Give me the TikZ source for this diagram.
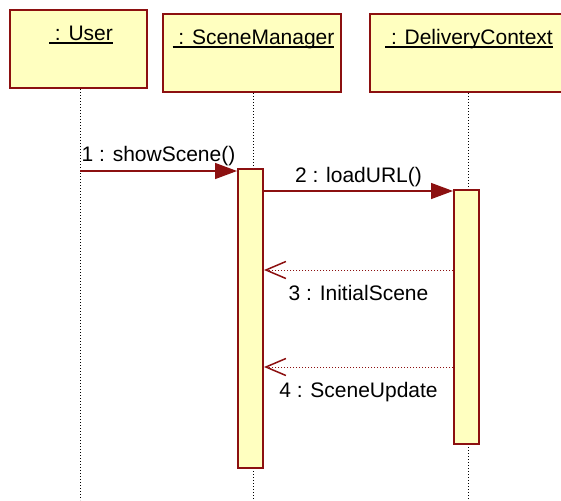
\documentclass[tikz,border=0pt]{standalone}
\usepackage{fontspec}
\setmainfont{Liberation Sans}
\usetikzlibrary{arrows.meta}
\definecolor{umlred}{RGB}{140,16,16}
\definecolor{umlfill}{RGB}{255,255,192}
\newcommand{\objname}[1]{\setbox0\hbox{#1}\rlap{\rule[-3pt]{\wd0}{1.5pt}}\box0}

\begin{document}
\begin{tikzpicture}[x=1pt, y=-1pt, font=\fontsize{21}{24}\selectfont,
        obj/.style={draw=umlred, fill=umlfill, line width=2pt, inner sep=0pt, minimum height=78pt},
        act/.style={draw=umlred, fill=umlfill, line width=2pt, inner sep=0pt, minimum width=25pt},
        life/.style={dash pattern=on 1pt off 2pt, line width=1pt},
        call/.style={umlred, line width=1.5pt, -{Triangle[length=22pt, width=16pt]}},
        reply/.style={umlred, line width=1pt, dash pattern=on 1pt off 2pt, -{Straight Barb[length=20pt, width=17pt, line width=1.5pt]}},
        msg/.style={midway, anchor=base, inner sep=0pt, text=black}]
        \clip (0,0) rectangle (561,500);
        \node[obj, minimum width=137pt] (user) at (78.5,49) {};
        \node[obj, minimum width=178pt] (sm) at (252,53) {};
        \node[obj, minimum width=198pt] (dc) at (469,53) {};
        \node[anchor=base, inner sep=0pt] (usertxt) at (81,41) {\objname{\ : User}};
        \node[anchor=base, inner sep=0pt] (smtxt) at (253.5,45) {\objname{\ : SceneManager}};
        \node[anchor=base, inner sep=0pt] (dctxt) at (469,45) {\objname{\ : DeliveryContext}};
        \coordinate (uend) at (80,500);
        \coordinate (smend) at (253,500);
        \coordinate (dcend) at (468,500);
        \draw[life] (user.south -| uend) -- (uend);
        \draw[life] (sm.south -| smend) -- (smend);
        \draw[life] (dc.south -| dcend) -- (dcend);
        \node[act, minimum height=299pt] (smact) at (250.5,318.5) {};
        \node[act, minimum height=254pt] (dcact) at (466.5,317) {};
        \coordinate (m1) at (0,171);
        \coordinate (m2) at (0,191);
        \coordinate (m3) at (0,270);
        \coordinate (m4) at (0,367);
        \draw[call] (uend |- m1) -- (smact.west |- m1) node[msg, yshift=10pt] {1 : showScene()};
        \draw[call] (smact.east |- m2) -- (dcact.west |- m2) node[msg, yshift=9pt] {2 : loadURL()};
        \draw[reply] (dcact.west |- m3) -- (smact.east |- m3) node[msg, yshift=-30pt] {3 : InitialScene};
        \draw[reply] (dcact.west |- m4) -- (smact.east |- m4) node[msg, yshift=-30pt] {4 : SceneUpdate};
    \end{tikzpicture}
\end{document}
